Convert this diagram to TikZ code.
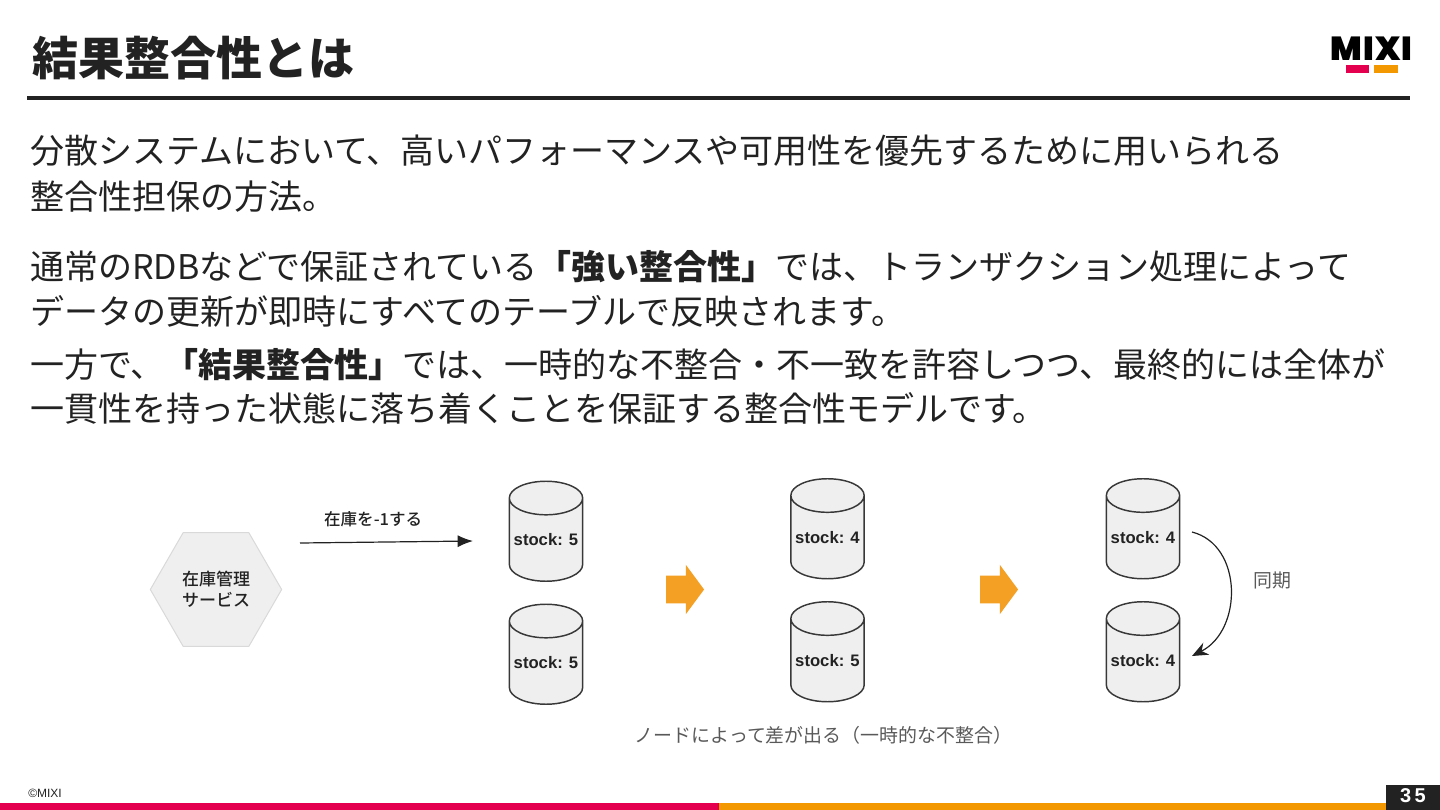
\documentclass[tikz,border=0pt]{standalone}
\usepackage{fontspec}
\setmainfont{Noto Sans CJK JP}
\newfontfamily\latinfont{Liberation Sans}
\newfontfamily\logofont[LetterSpace=2.5]{Poppins Black}
\newfontfamily\midfont{Noto Sans CJK JP Medium}
\usetikzlibrary{arrows.meta,shapes.geometric,shapes.arrows}
\definecolor{inkdark}{HTML}{222222}
\definecolor{barred}{HTML}{E5004F}
\definecolor{barorange}{HTML}{F39800}
\definecolor{blockorange}{HTML}{F4A024}
\definecolor{cellgray}{HTML}{EFEFEF}
\tikzset{
  bodyline/.style={anchor=base west,inner sep=0pt,text=inkdark,font=\fontsize{25.5}{30}\selectfont},
  flatbar/.style={inner sep=0pt,minimum height=#1,anchor=north west},
  dbnode/.style={cylinder,shape border rotate=90,aspect=0.52,draw=inkdark!90,line width=1.1pt,fill=cellgray,
    minimum width=55pt,minimum height=75pt,inner sep=0pt,text=inkdark,
    font=\latinfont\bfseries\fontsize{12.5}{15}\selectfont},
  nextarrow/.style={single arrow,fill=blockorange,inner xsep=0pt,inner ysep=10.125pt,minimum height=28.5pt,
    single arrow head extend=8.25pt,single arrow tip angle=107},
  notelabel/.style={inner sep=0pt,text=inkdark!75,font=\fontsize{14.2}{17}\selectfont},
  flowline/.style={draw=inkdark,line width=0.9pt}
}
\begin{document}
\begin{tikzpicture}[x=0.75pt,y=-0.75pt]
  \useasboundingbox (0,0) rectangle (1440,810);
  % heading
  \node[anchor=base west,inner sep=0pt,text=inkdark,font=\bfseries\fontsize{34.5}{40}\selectfont] (title) at (32,75) {結果整合性とは};
  \node[flatbar=3pt,fill=inkdark,minimum width=1037.25pt] (titlerule) at (27,96) {};
  % logo
  \node[inner sep=0pt,font=\logofont\fontsize{25}{28}\selectfont] (logo) at (1371.5,49) {MIXI};
  \node[flatbar=6pt,fill=barred,minimum width=17.25pt] (logored) at (1346,65) {};
  \node[flatbar=6pt,fill=barorange,minimum width=18pt] (logoorange) at (1374,65) {};
  % text
  \node[bodyline] (line1) at (30,163.5) {分散システムにおいて、高いパフォーマンスや可用性を優先するために用いられる};
  \node[bodyline] (line2) at (30,209.5) {整合性担保の方法。};
  \node[bodyline] (line3) at (30,279.5) {通常のRDBなどで保証されている\textbf{「強い整合性」}では、トランザクション処理によって};
  \node[bodyline] (line4) at (30,324.5) {データの更新が即時にすべてのテーブルで反映されます。};
  \node[bodyline] (line5) at (30,377.5) {一方で、\textbf{「結果整合性」}では、一時的な不整合・不一致を許容しつつ、最終的には全体が};
  \node[bodyline] (line6) at (30,421.5) {一貫性を持った状態に落ち着くことを保証する整合性モデルです。};
  % service
  \node[regular polygon,regular polygon sides=6,draw=black!15,fill=cellgray,line width=0.75pt,minimum size=98.5pt,inner sep=0pt,
    align=center,text=inkdark,font=\midfont\fontsize{12.75}{15.5}\selectfont] (service) at (216,589.5) {在庫管理\\サービス};
  \coordinate (reqstart) at (300,543);
  \coordinate (reqend) at (473,541);
  \draw[flowline,-{Latex[length=11.5pt,width=9pt]}] (reqstart) to node[above=11pt,xshift=-10pt,inner sep=0pt,text=inkdark,
    font=\midfont\fontsize{12.4}{15}\selectfont] (reqlabel) {在庫を-1する} (reqend);
  % first stage
  \node[dbnode] (a1) at (546,540) {stock: 5};
  \node[dbnode] (a2) at (546,663) {stock: 5};
  \node[nextarrow] (go1) at (680,589.5) {\rule{0pt}{0pt}};
  % second stage
  \node[dbnode] (b1) at (827.5,537.5) {stock: 4};
  \node[dbnode] (b2) at (827.5,660.5) {stock: 5};
  \node[nextarrow] (go2) at (994,589.5) {\rule{0pt}{0pt}};
  % third stage
  \node[dbnode] (c1) at (1143,537.5) {stock: 4};
  \node[dbnode] (c2) at (1143,660.5) {stock: 4};
  \coordinate (syncstart) at (1192,532);
  \coordinate (syncend) at (1192,656);
  \draw[flowline,-{Stealth[length=12pt,width=10pt]}] (syncstart) .. controls (1243,545) and (1243,630) .. (syncend);
  \node[notelabel] (synclabel) at (1272.5,580) {同期};
  \node[notelabel] (gaplabel) at (823.5,735) {ノードによって差が出る（一時的な不整合）};
  % footer
  \node[anchor=west,inner sep=0pt,text=inkdark,font=\latinfont\fontsize{9}{10}\selectfont] (copyright) at (28,793.5) {©MIXI};
  \node[flatbar=5.25pt,fill=barred,minimum width=539.25pt] (footred) at (0,803) {};
  \node[flatbar=5.25pt,fill=barorange,minimum width=500.25pt] (footorange) at (719,803) {};
  \node[flatbar=18.75pt,fill=inkdark,minimum width=40.5pt] (pagebox) at (1386,785) {};
  \node[inner sep=0pt,text=white,font=\latinfont\bfseries\fontsize{15}{18}\selectfont] (pagenum) at (1413,796) {3\,5};
\end{tikzpicture}
\end{document}
